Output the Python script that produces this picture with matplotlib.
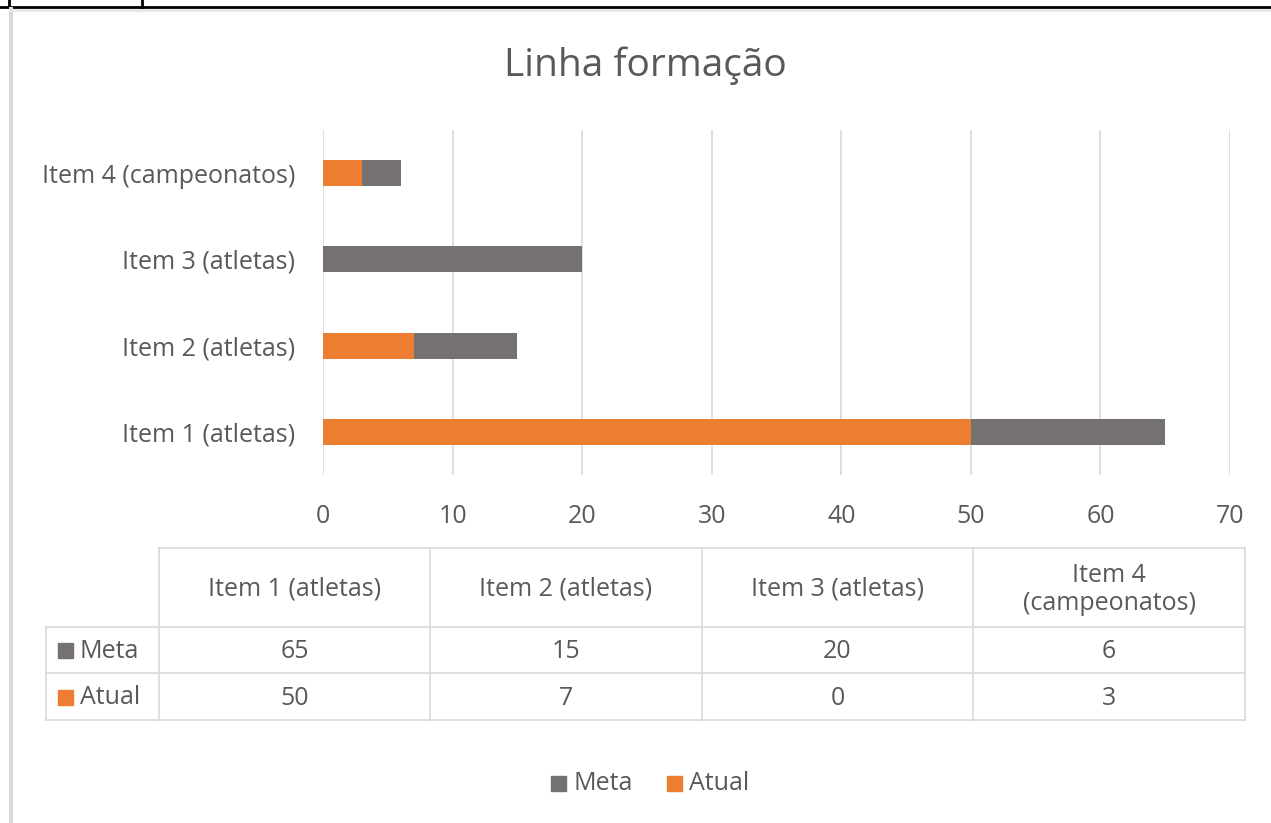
import matplotlib.pyplot as plt
from matplotlib.patches import Rectangle
import numpy as np

# dados
categorias = ['Item 1 (atletas)', 'Item 2 (atletas)', 'Item 3 (atletas)', 'Item 4 (campeonatos)']
cabecalho_tabela = ['Item 1 (atletas)', 'Item 2 (atletas)', 'Item 3 (atletas)', 'Item 4\n(campeonatos)']
meta = [65, 15, 20, 6]
atual = [50, 7, 0, 3]
xticks = [0, 10, 20, 30, 40, 50, 60, 70]

COR_META = '#767171'
COR_ATUAL = '#ED7D31'
COR_TEXTO = '#595959'
COR_GRADE = '#d9d9d9'
FS = 18

plt.rcParams['font.family'] = ['Open Sans', 'DejaVu Sans']

W, H = 1271, 823
fig = plt.figure(figsize=(W / 100, H / 100), dpi=100)

# area do grafico
ax = fig.add_axes([323 / W, 1 - 475 / H, (1230 - 323) / W, (475 - 130) / H])
y = np.arange(len(categorias))
ax.barh(y, meta, height=0.30, color=COR_META, zorder=2)
ax.barh(y, atual, height=0.30, color=COR_ATUAL, zorder=3)
ax.set_xlim(0, 70)
ax.set_ylim(-0.5, len(categorias) - 0.5)
ax.set_xticks(xticks)
ax.set_yticks(y)
ax.set_yticklabels(categorias)
ax.grid(axis='x', color=COR_GRADE, linewidth=1.2, zorder=0)
for s in ax.spines.values():
    s.set_visible(False)
ax.tick_params(length=0, labelsize=FS, colors=COR_TEXTO)
ax.tick_params(axis='x', pad=21)
ax.tick_params(axis='y', pad=20)

# camada em pixels para titulo, tabela e legenda
ov = fig.add_axes([0, 0, 1, 1], zorder=-1)
ov.set_xlim(0, W)
ov.set_ylim(H, 0)
ov.axis('off')

# bordas da pagina
ov.plot([0, W], [7, 7], color='black', lw=2)
ov.plot([142, 142], [0, 7], color='black', lw=2)
ov.plot([9, 9], [0, 7], color='black', lw=2)
ov.plot([10.5, 10.5], [9, H], color='#d9d9d9', lw=3)
ov.plot([10, W], [9.5, 9.5], color='#e6e6e6', lw=2)

ov.text(645, 66, 'Linha formação', ha='center', va='center', fontsize=28, color=COR_TEXTO)

# tabela de dados
colx = [159, 430, 702, 973, 1245]
rowy = [548, 627, 673, 720]
lc = dict(color=COR_GRADE, lw=1.2)
ov.plot([colx[0], colx[-1]], [rowy[0], rowy[0]], **lc)
for yy in rowy[1:]:
    ov.plot([46, colx[-1]], [yy, yy], **lc)
for xx in colx:
    ov.plot([xx, xx], [rowy[0], rowy[-1]], **lc)
ov.plot([46, 46], [rowy[1], rowy[-1]], **lc)

for i, lab in enumerate(cabecalho_tabela):
    cx = (colx[i] + colx[i + 1]) / 2
    ov.text(cx, (rowy[0] + rowy[1]) / 2 + 2, lab, ha='center', va='center',
            fontsize=FS, color=COR_TEXTO, linespacing=1.15)
    ov.text(cx, (rowy[1] + rowy[2]) / 2 + 2, str(meta[i]), ha='center', va='center',
            fontsize=FS, color=COR_TEXTO)
    ov.text(cx, (rowy[2] + rowy[3]) / 2 + 2, str(atual[i]), ha='center', va='center',
            fontsize=FS, color=COR_TEXTO)

for (nome, cor), yy in zip([('Meta', COR_META), ('Atual', COR_ATUAL)],
                            [(rowy[1] + rowy[2]) / 2, (rowy[2] + rowy[3]) / 2]):
    ov.add_patch(Rectangle((58, yy - 7), 15, 15, color=cor))
    ov.text(80, yy + 1, nome, ha='left', va='center', fontsize=FS, color=COR_TEXTO)

# legenda
for nome, cor, x0 in [('Meta', COR_META, 551), ('Atual', COR_ATUAL, 667)]:
    ov.add_patch(Rectangle((x0, 776), 15, 15, color=cor))
    ov.text(x0 + 22, 784, nome, ha='left', va='center', fontsize=FS, color=COR_TEXTO)

fig.savefig('out.png', dpi=100)
